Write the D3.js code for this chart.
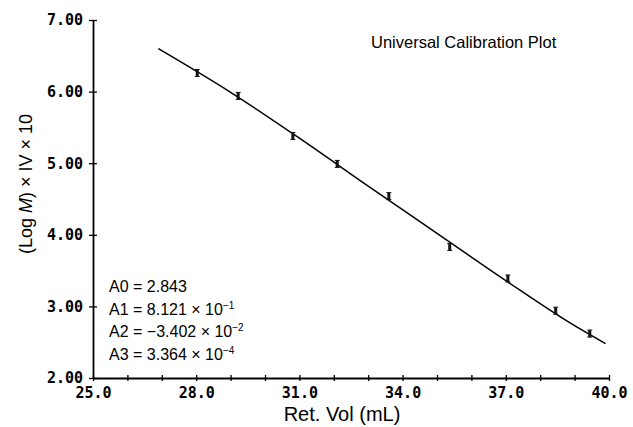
<!DOCTYPE html>
<html>
<head>
<meta charset="utf-8">
<script src="https://cdn.jsdelivr.net/npm/d3@7"></script>
<style>
  body { margin: 0; background: #fff; }
  svg { display: block; }
</style>
</head>
<body>
<div id="chart"></div>
<script>
// measured points (ret. vol in mL, log M x IV x 10)
var retVol = [28.03, 29.22, 30.81, 32.10, 33.60, 35.37, 37.06, 38.45, 39.44];
var logMIV = [6.26, 5.94, 5.38, 4.99, 4.54, 3.83, 3.39, 2.94, 2.62];

// fitted calibration curve
var fitVol = [26.9, 29.0, 31.0, 33.0, 35.0, 37.0, 39.0, 39.9];
var fitVal = [6.60, 5.99, 5.35, 4.68, 4.02, 3.36, 2.73, 2.48];

var xTicks = [25, 26, 27, 28, 29, 30, 31, 32, 33, 34, 35, 36, 37, 38, 39, 40];
var xLabels = [25, 28, 31, 34, 37, 40];
var yTicks = [2, 3, 4, 5, 6, 7];

var coefNames = ["A0", "A1", "A2", "A3"];
var coefMant = ["2.843", "8.121", "\u22123.402", "3.364"];
var coefExp = [null, "\u22121", "\u22122", "\u22124"];

var width = 633, height = 427;

var svg = d3.select("#chart")
  .append("svg")
    .attr("width", width)
    .attr("height", height);

var x = d3.scaleLinear()
  .domain([25, 40])
  .range([93, 609]);

var y = d3.scaleLinear()
  .domain([2, 7])
  .range([378, 20]);

var tickFont = "'DejaVu Sans Mono', monospace";
var textFont = "'Liberation Sans', Arial, sans-serif";

// x axis
var xAxis = svg.append("g")
  .attr("transform", "translate(0," + y(2) + ")")
  .call(d3.axisBottom(x)
    .tickValues(xTicks)
    .tickSizeOuter(0)
    .tickFormat(function(d) { return xLabels.indexOf(d) >= 0 ? d3.format(".1f")(d) : ""; }));
xAxis.select(".domain").attr("stroke-width", 1.8);
xAxis.selectAll("line").attr("y1", -3).attr("y2", 3).attr("stroke-width", 1.3);
xAxis.selectAll("text")
  .attr("y", 9)
  .attr("dy", "0.75em")
  .style("font-family", tickFont)
  .style("font-weight", "bold")
  .style("font-size", "15px")
  .attr("fill", "#000");

// y axis
var yAxis = svg.append("g")
  .attr("transform", "translate(" + x(25) + ",0)")
  .call(d3.axisLeft(y)
    .tickValues(yTicks)
    .tickSizeOuter(0)
    .tickFormat(d3.format(".2f")));
yAxis.select(".domain").attr("stroke-width", 1.8);
yAxis.selectAll("line").attr("x1", 4).attr("x2", -4).attr("stroke-width", 1.3);
yAxis.selectAll("text")
  .attr("x", -10)
  .style("font-family", tickFont)
  .style("font-weight", "bold")
  .style("font-size", "15px")
  .attr("fill", "#000");

// fit curve
var fitData = fitVol.map(function(v, i) { return {v: v, m: fitVal[i]}; });
svg.append("path")
  .datum(fitData)
  .attr("fill", "none")
  .attr("stroke", "#000")
  .attr("stroke-width", 1.5)
  .attr("d", d3.line()
    .curve(d3.curveMonotoneX)
    .x(function(d) { return x(d.v); })
    .y(function(d) { return y(d.m); }));

// data points as small error-bar marks
var pts = retVol.map(function(v, i) { return {v: v, m: logMIV[i]}; });
var marks = svg.selectAll(".pt")
  .data(pts)
  .enter()
  .append("g")
    .attr("class", "pt")
    .attr("transform", function(d) { return "translate(" + x(d.v) + "," + y(d.m) + ")"; });
marks.append("rect")
  .attr("x", -1.5).attr("y", -3.5)
  .attr("width", 3).attr("height", 7)
  .attr("fill", "#111");
marks.append("path")
  .attr("d", "M-2.5,-3.5H2.5M-2.5,3.5H2.5")
  .attr("stroke", "#111")
  .attr("stroke-width", 1);

// title
svg.append("text")
  .attr("x", 371)
  .attr("y", 48)
  .style("font-family", textFont)
  .style("font-size", "16.5px")
  .text("Universal Calibration Plot");

// axis titles
svg.append("text")
  .attr("x", 342)
  .attr("y", 421)
  .attr("text-anchor", "middle")
  .style("font-family", textFont)
  .style("font-size", "20px")
  .text("Ret. Vol (mL)");

var yTitle = svg.append("text")
  .attr("transform", "translate(32,184) rotate(-90)")
  .attr("text-anchor", "middle")
  .style("font-family", textFont)
  .style("font-size", "18px");
yTitle.append("tspan").text("(Log ");
yTitle.append("tspan").style("font-style", "italic").text("M");
yTitle.append("tspan").text(") \u00d7 IV \u00d7 10");

// coefficients
var coef = svg.append("g")
  .style("font-family", textFont)
  .style("font-size", "16px");
coefNames.forEach(function(name, i) {
  var t = coef.append("text")
    .attr("x", 109)
    .attr("y", 292 + i * 22.7);
  t.append("tspan").text(name + " = " + coefMant[i]);
  if (coefExp[i]) {
    t.append("tspan").text(" \u00d7 10");
    t.append("tspan")
      .attr("dy", -6)
      .style("font-size", "10px")
      .text(coefExp[i]);
  }
});
</script>
</body>
</html>
